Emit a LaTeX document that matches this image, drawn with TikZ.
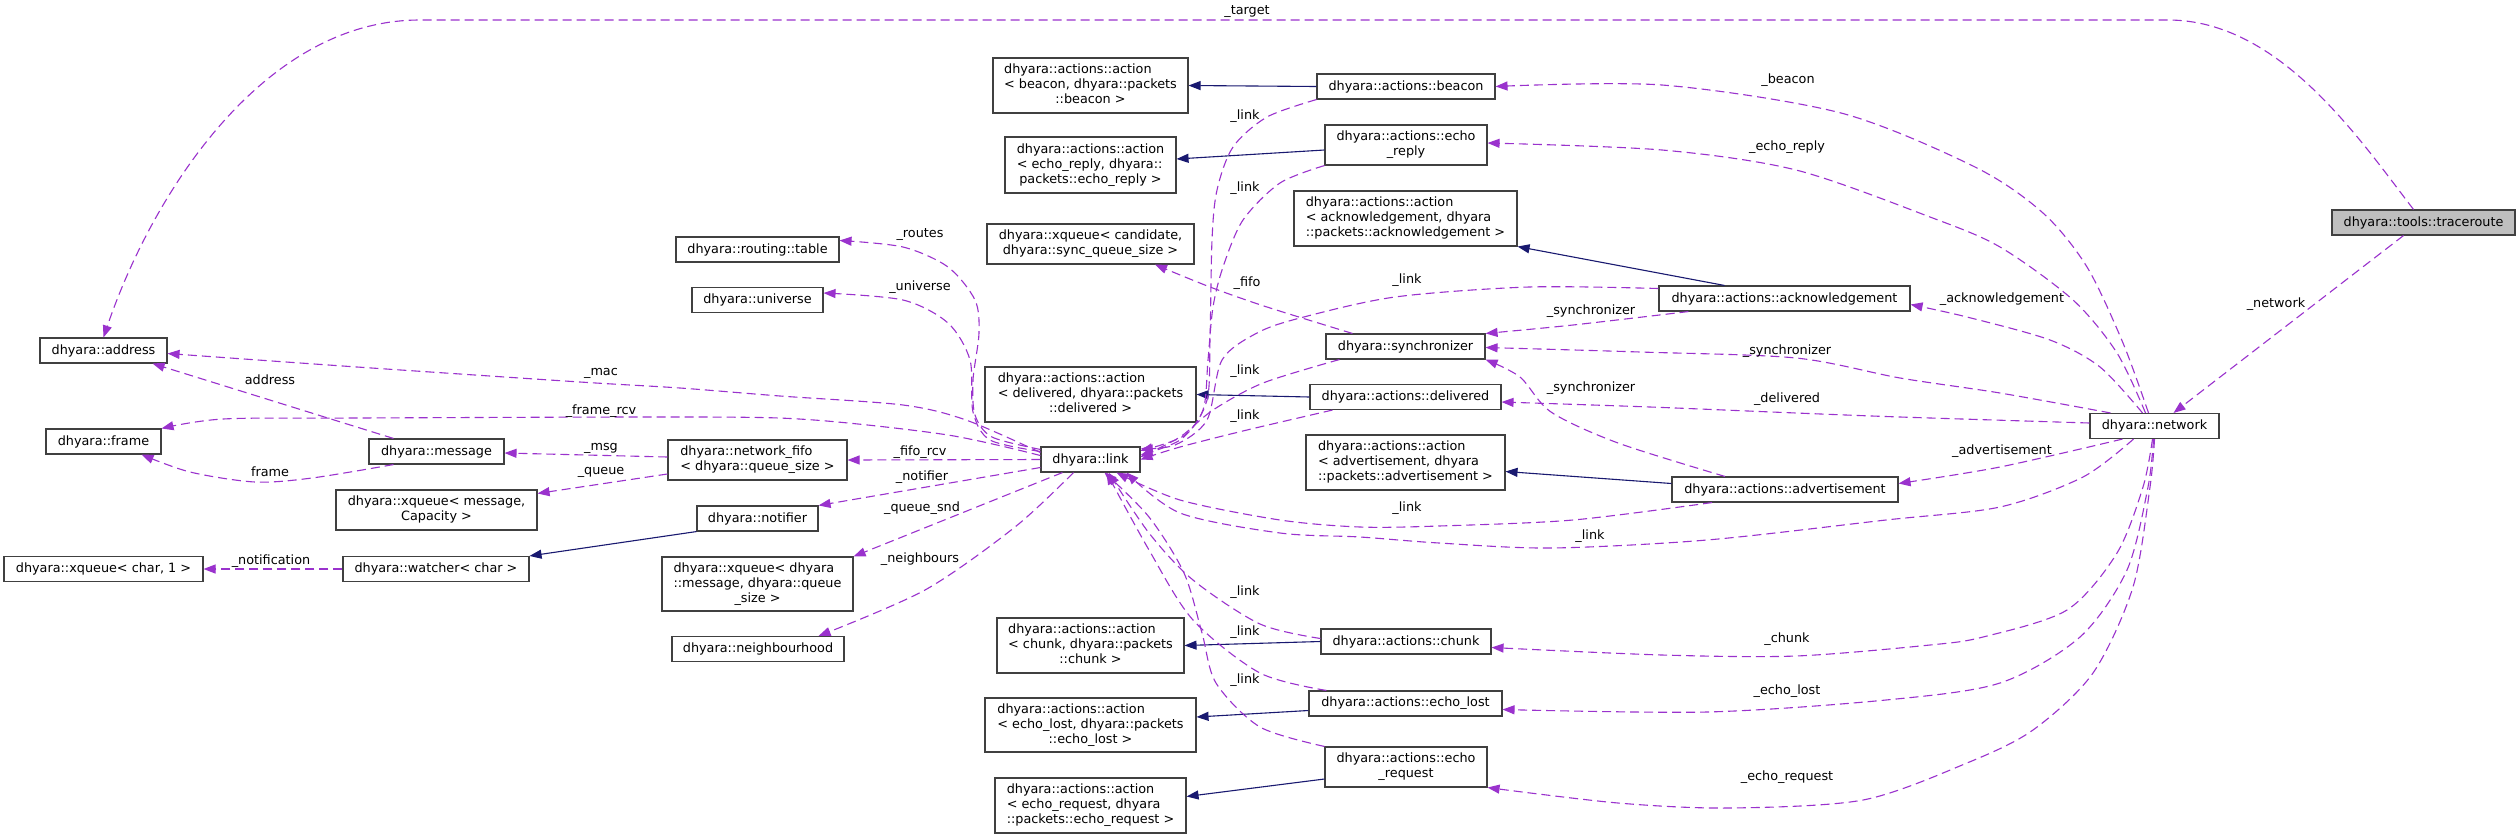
\documentclass[tikz,border=0pt]{standalone}
\usepackage{fontspec}
\setmainfont{DejaVu Sans}
\usepackage{tikz}
\usetikzlibrary{arrows.meta}
\definecolor{usecol}{HTML}{9A32CD}
\definecolor{inhcol}{HTML}{191970}
\newcommand{\dlines}[2]{\begin{tabular}{@{}l@{}}#1\\\multicolumn{1}{@{}c@{}}{#2}\end{tabular}}

\begin{document}
\begin{tikzpicture}[x=1pt,y=-1pt,font=\fontsize{12.8}{15}\selectfont,
    cls/.style={draw=black!75,line width=1.1pt,fill=white,inner xsep=3pt,inner ysep=2pt,minimum height=25pt},
    uses/.style={draw=usecol,line width=1.1pt,dash pattern=on 9pt off 5pt,-{Triangle[length=12pt,width=9pt]}},
    isa/.style={draw=inhcol,line width=1.1pt,-{Triangle[length=12pt,width=9pt]}},
    lbl/.style={inner sep=0pt}]
  \path[fill=white] (0,0) rectangle (2520,839);

  \node[cls,minimum width=127pt] (address) at (103.5,350.5) {dhyara::address};
  \node[cls,minimum width=115pt] (frame) at (103.5,441.5) {dhyara::frame};
  \node[cls,minimum width=135pt] (message) at (436.5,451.5) {dhyara::message};
  \node[cls,minimum width=201pt,minimum height=40pt] (xqmsg) at (436.5,510) {\dlines{dhyara::xqueue< message,}{Capacity >}};
  \node[cls,minimum width=199pt] (xqchar) at (103.5,569) {dhyara::xqueue< char, 1 >};
  \node[cls,minimum width=186pt] (watcher) at (436,569) {dhyara::watcher< char >};
  \node[cls,minimum width=163pt] (rtable) at (757.5,249.5) {dhyara::routing::table};
  \node[cls,minimum width=131pt] (universe) at (757.5,300) {dhyara::universe};
  \node[cls,minimum width=179pt,minimum height=40pt] (netfifo) at (757.5,460) {\dlines{dhyara::network\_fifo}{< dhyara::queue\_size >}};
  \node[cls,minimum width=121pt] (notifier) at (757.5,518.5) {dhyara::notifier};
  \node[cls,minimum width=191pt,minimum height=54pt] (xqsnd) at (757.5,584) {\dlines{dhyara::xqueue< dhyara\\::message, dhyara::queue}{\_size >}};
  \node[cls,minimum width=172pt] (nbhood) at (758,649) {dhyara::neighbourhood};
  \node[cls,minimum width=99pt] (link) at (1090.5,459.5) {dhyara::link};
  \node[cls,minimum width=195pt,minimum height=55pt] (actbeacon) at (1090.5,85.5) {\dlines{dhyara::actions::action\\< beacon, dhyara::packets}{::beacon >}};
  \node[cls,minimum width=171pt,minimum height=56pt] (actechorep) at (1090.5,165) {\dlines{dhyara::actions::action\\< echo\_reply, dhyara::}{packets::echo\_reply >}};
  \node[cls,minimum width=207pt,minimum height=40pt] (xqcand) at (1090.5,244) {\dlines{dhyara::xqueue< candidate,}{dhyara::sync\_queue\_size >}};
  \node[cls,minimum width=211pt,minimum height=55pt] (actdeliv) at (1090.5,394.5) {\dlines{dhyara::actions::action\\< delivered, dhyara::packets}{::delivered >}};
  \node[cls,minimum width=187pt,minimum height=55pt] (actchunk) at (1090.5,645.5) {\dlines{dhyara::actions::action\\< chunk, dhyara::packets}{::chunk >}};
  \node[cls,minimum width=211pt,minimum height=54pt] (actecholost) at (1090.5,725) {\dlines{dhyara::actions::action\\< echo\_lost, dhyara::packets}{::echo\_lost >}};
  \node[cls,minimum width=191pt,minimum height=55pt] (actechoreq) at (1090.5,805.5) {\dlines{dhyara::actions::action\\< echo\_request, dhyara}{::packets::echo\_request >}};
  \node[cls,minimum width=178pt] (beacon) at (1406,86.5) {dhyara::actions::beacon};
  \node[cls,minimum width=162pt,minimum height=40pt] (echorep) at (1406,145) {\dlines{dhyara::actions::echo}{\_reply}};
  \node[cls,minimum width=223pt,minimum height=55pt] (actack) at (1405.5,218.5) {\dlines{dhyara::actions::action\\< acknowledgement, dhyara}{::packets::acknowledgement >}};
  \node[cls,minimum width=159pt] (sync) at (1405.5,346.5) {dhyara::synchronizer};
  \node[cls,minimum width=191pt] (deliv) at (1405.5,397) {dhyara::actions::delivered};
  \node[cls,minimum width=199pt,minimum height=55pt] (actadv) at (1405.5,462.5) {\dlines{dhyara::actions::action\\< advertisement, dhyara}{::packets::advertisement >}};
  \node[cls,minimum width=170pt] (chunk) at (1406,641.5) {dhyara::actions::chunk};
  \node[cls,minimum width=193pt] (echolost) at (1405.5,703.5) {dhyara::actions::echo\_lost};
  \node[cls,minimum width=162pt,minimum height=40pt] (echoreq) at (1406,767) {\dlines{dhyara::actions::echo}{\_request}};
  \node[cls,minimum width=251pt] (ack) at (1784.5,298.5) {dhyara::actions::acknowledgement};
  \node[cls,minimum width=226pt] (adv) at (1785,489.5) {dhyara::actions::advertisement};
  \node[cls,minimum width=129pt] (network) at (2154.5,426) {dhyara::network};
  \node[cls,fill=black!25,minimum width=183pt] (traceroute) at (2423.5,222.5) {dhyara::tools::traceroute};

  \draw[isa] (beacon.west) -- (actbeacon.east);
  \draw[isa] ([yshift=-5pt]echorep.west) -- ([yshift=6pt]actechorep.east);
  \draw[isa] ([xshift=-60pt]ack.north) -- (actack.south east);
  \draw[isa] (deliv.west) -- (actdeliv.east);
  \draw[isa] ([yshift=6pt]adv.west) -- ([yshift=-9pt]actadv.east);
  \draw[isa] (chunk.west) -- (actchunk.east);
  \draw[isa] ([yshift=-7pt]echolost.west) -- ([yshift=8pt]actecholost.east);
  \draw[isa] ([yshift=-12pt]echoreq.west) -- ([yshift=9pt]actechoreq.east);
  \draw[isa] (notifier.south west) -- (watcher.north east);

  \draw[uses] ([xshift=-10pt]traceroute.north) .. controls (2360,140) and (2280,20) .. (2168,20) -- (420,20) .. controls (260,20) and (150,200) .. (address.north);
  \draw[uses] ([xshift=-20pt]traceroute.south) -- ([xshift=19pt]network.north);
  \draw[uses] plot[smooth] coordinates {([xshift=-6pt]network.north) (2123,343) (2087,267) (2043,213) (1975,167) (1841,113) (1662,85) (beacon.east)};
  \draw[uses] plot[smooth] coordinates {([xshift=-9pt]network.north) (2117,353) (2073,300) (2000,247) (1930,217) (1796,170) (1662,150) ([yshift=2pt]echorep.east)};
  \draw[uses] plot[smooth] coordinates {([xshift=-12pt]network.north) (2100,367) (2050,340) (1967,317) ([yshift=-6pt]ack.east)};
  \draw[uses] plot[smooth] coordinates {([xshift=-44pt]network.north) (2000,393) (1900,378) (1796,358) (1640,352) ([yshift=-1pt]sync.east)};
  \draw[uses] plot[smooth] coordinates {([yshift=3pt]network.west) (1900,417) (1796,413) (1650,407) ([yshift=-5pt]deliv.east)};
  \draw[uses] plot[smooth] coordinates {([xshift=-32pt]network.south) (2000,467) ([yshift=6pt]adv.east)};
  \draw[uses] plot[smooth] coordinates {([xshift=-21pt]network.south) (2083,477) (2000,507) (1886,520) (1707,540) (1551,548) (1439,543) (1360,537) (1280,533) (1180,513) ([xshift=36pt]link.south)};
  \draw[uses] plot[smooth] coordinates {([xshift=-2pt]network.south) (2143,487) (2117,553) (2067,610) (1983,637) (1930,645) (1796,656) (1662,655) ([yshift=-6pt]chunk.east)};
  \draw[uses] plot[smooth] coordinates {([xshift=-1pt]network.south) (2148,487) (2127,570) (2080,637) (2000,683) (1886,700) (1707,712) ([yshift=-6pt]echolost.east)};
  \draw[uses] plot[smooth] coordinates {(network.south) (2150,487) (2133,587) (2093,673) (2033,730) (1967,763) (1863,800) (1729,808) (1618,803) (echoreq.south east)};

  \draw[uses] plot[smooth] coordinates {(beacon.south west) (1267,117) (1233,147) (1217,190) (1212,240) (1210,340) (1207,400) (1185,435) (link.10)};
  \draw[uses] plot[smooth] coordinates {(echorep.south west) (1280,183) (1243,220) (1223,267) (1213,307) (1208,360) (1203,410) (1180,440) (link.5)};
  \draw[uses] plot[smooth] coordinates {([yshift=10pt]ack.west) (1529,287) (1395,297) (1300,318) (1257,333) (1222,360) (1207,420) (1175,445) (link.12)};
  \draw[uses] plot[smooth] coordinates {([xshift=14pt]sync.south west) (1263,383) (1213,410) (1180,437) (link.3)};
  \draw[uses] plot[smooth] coordinates {([xshift=23pt]deliv.south west) (1247,430) (1180,447) (link.east)};
  \draw[uses] plot[smooth] coordinates {([xshift=-73pt]adv.south) (1573,520) (1439,526) (1360,527) (1280,520) (1180,500) ([xshift=26pt]link.south)};
  \draw[uses] plot[smooth] coordinates {([yshift=3pt]chunk.west) (1260,624) (1193,580) (1149,533) ([xshift=18pt]link.south)};
  \draw[uses] plot[smooth] coordinates {([xshift=18pt]echolost.north west) (1260,673) (1193,620) (1149,550) ([xshift=16pt]link.south)};
  \draw[uses] plot[smooth] coordinates {(echoreq.north west) (1260,727) (1216,683) (1202,633) (1184,573) (1149,517) ([xshift=14pt]link.south)};
  \draw[uses] plot[smooth] coordinates {([xshift=30pt]ack.south west) (1573,325) (sync.north east)};
  \draw[uses] plot[smooth] coordinates {([xshift=-60pt]adv.north) (1618,443) (1551,412) (1520,377) (sync.south east)};
  \draw[uses] plot[smooth] coordinates {([xshift=27pt]sync.north west) (1267,307) (1210,287) ([xshift=64.5pt]xqcand.south)};

  \draw[uses] plot[smooth] coordinates {([yshift=-3pt]link.north west) (992,437) (975,415) (973,380) (979,333) (975,300) (948,267) (903,247) ([yshift=9pt]rtable.east)};
  \draw[uses] plot[smooth] coordinates {([yshift=-5pt]link.north west) (990,440) (973,412) (970,360) (948,323) (903,300) ([yshift=7pt]universe.east)};
  \draw[uses] plot[smooth] coordinates {([yshift=7pt]link.west) (966,420) (903,405) (780,396) (680,388) (580,382) (357,367) ([yshift=-3pt]address.east)};
  \draw[uses] plot[smooth] coordinates {([yshift=4pt]link.west) (948,435) (814,420) (700,417) (357,418) (223,419) (frame.north east)};
  \draw[uses] (link.west) -- (netfifo.east);
  \draw[uses] ([yshift=-8pt]link.west) -- (notifier.north east);
  \draw[uses] ([xshift=-28pt]link.south) -- (xqsnd.north east);
  \draw[uses] plot[smooth] coordinates {([xshift=-17pt]link.south) (1015,527) (925,590) ([xshift=-26pt]nbhood.north east)};
  \draw[uses] ([xshift=-43pt]message.north) -- ([xshift=-15pt]address.south east);
  \draw[uses] plot[smooth] coordinates {([xshift=-43pt]message.south) (312,478) (255,482) (190,472) ([xshift=-20pt]frame.south east)};
  \draw[uses] ([yshift=3pt]netfifo.west) -- ([yshift=-1.5pt]message.east);
  \draw[uses] ([yshift=-14pt]netfifo.west) -- ([yshift=-4pt]xqmsg.north east);
  \draw[uses] (watcher.west) -- (xqchar.east);

  \node[lbl] (ltarget) at (1247,12) {\_target};
  \node[lbl] (lnetwork) at (2276,304) {\_network};
  \node[lbl] (lbeacon) at (1788,80) {\_beacon};
  \node[lbl] (lechorep) at (1787,147) {\_echo\_reply};
  \node[lbl] (lack) at (2002,299) {\_acknowledgement};
  \node[lbl] (lsynca) at (1591,311) {\_synchronizer};
  \node[lbl] (lsyncb) at (1787,351) {\_synchronizer};
  \node[lbl] (lsyncc) at (1591,388) {\_synchronizer};
  \node[lbl] (ldeliv) at (1787,399) {\_delivered};
  \node[lbl] (ladv) at (2002,451) {\_advertisement};
  \node[lbl] (llinka) at (1407,280) {\_link};
  \node[lbl] (llinkb) at (1407,508) {\_link};
  \node[lbl] (llinkc) at (1590,536) {\_link};
  \node[lbl] (llinkd) at (1245,116) {\_link};
  \node[lbl] (llinke) at (1245,188) {\_link};
  \node[lbl] (lfifo) at (1247,283) {\_fifo};
  \node[lbl] (llinkf) at (1245,371) {\_link};
  \node[lbl] (llinkg) at (1245,416) {\_link};
  \node[lbl] (llinkh) at (1245,592) {\_link};
  \node[lbl] (llinki) at (1245,632) {\_link};
  \node[lbl] (llinkj) at (1245,680) {\_link};
  \node[lbl] (lchunk) at (1787,639) {\_chunk};
  \node[lbl] (lecholost) at (1787,691) {\_echo\_lost};
  \node[lbl] (lechoreq) at (1787,777) {\_echo\_request};
  \node[lbl] (lroutes) at (920,235) {\_routes};
  \node[lbl] (luniverse) at (920,287) {\_universe};
  \node[lbl] (lmac) at (601,373) {\_mac};
  \node[lbl] (laddress) at (270,380) {address};
  \node[lbl] (lframercv) at (601,411) {\_frame\_rcv};
  \node[lbl] (lframe) at (270,472) {frame};
  \node[lbl] (lmsg) at (601,448) {\_msg};
  \node[lbl] (lqueue) at (601,472) {\_queue};
  \node[lbl] (lnotification) at (271,561) {\_notification};
  \node[lbl] (lfiforcv) at (920,452) {\_fifo\_rcv};
  \node[lbl] (lnotifier) at (922,477) {\_notifier};
  \node[lbl] (lqueuesnd) at (922,508) {\_queue\_snd};
  \node[lbl] (lneighbours) at (920,559) {\_neighbours};
\end{tikzpicture}
\end{document}
